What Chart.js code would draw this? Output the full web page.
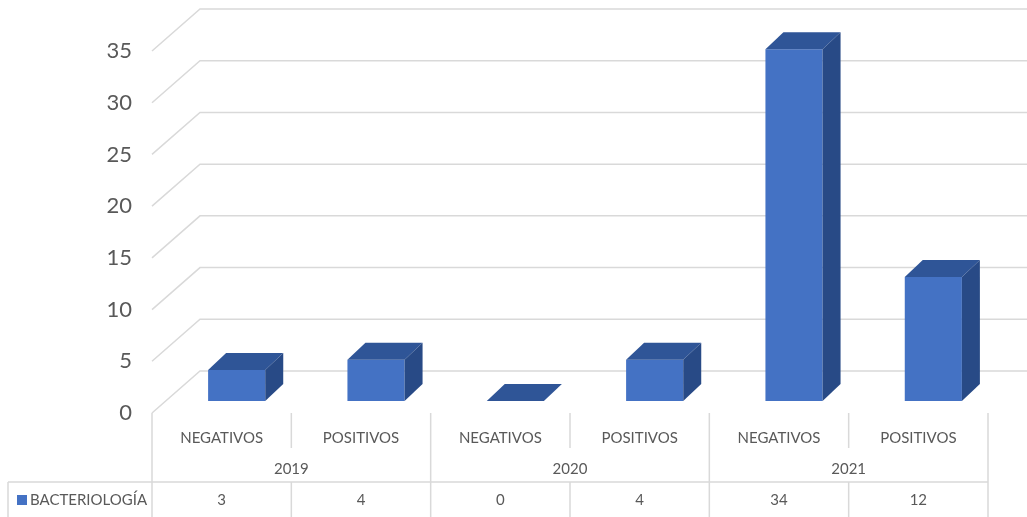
<!DOCTYPE html>
<html>
<head>
<meta charset="utf-8">
<script src="https://cdn.jsdelivr.net/npm/chart.js@4.4.1/dist/chart.umd.min.js"></script>
<style>
    html, body { margin: 0; padding: 0; background: #fff; }
    #wrap { width: 1027px; height: 517px; position: relative; }
</style>
</head>
<body>
<div id="wrap"><canvas id="bacteChart" width="1027" height="517"></canvas></div>
<script>
// Chart data
const years = ['2019', '2020', '2021'];
const results = ['NEGATIVOS', 'POSITIVOS'];
const seriesName = 'BACTERIOLOGÍA';
const bacteriologia = [3, 4, 0, 4, 34, 12];
const yTicks = [0, 5, 10, 15, 20, 25, 30, 35];

// Colours
const FRONT = '#4472C4';
const TOP = '#2F5597';
const SIDE = '#284A86';
const GRID = '#D9D9D9';
const TEXT = '#595959';
const FONT = 'Lato, "Open Sans", sans-serif';

// 3D geometry (pixels)
const DEPTH_X = 18, DEPTH_Y = -17;       // bar depth
const WALL_X = 33, WALL_Y = -30;         // bar front -> back wall
const FRONT_X = -15, FRONT_Y = 12;       // bar front -> floor front edge

const labels = [];
years.forEach(y => results.forEach(r => labels.push([r, y])));

// Back wall grid, floor edge and 3D bar faces
const frame3d = {
    id: 'frame3d',
    beforeDatasetsDraw(chart) {
        const { ctx, scales: { y }, chartArea } = chart;
        const frontLeft = chartArea.left + FRONT_X;
        ctx.save();
        ctx.strokeStyle = GRID;
        ctx.lineWidth = 1.5;
        yTicks.forEach(v => {
            const py = y.getPixelForValue(v);
            ctx.beginPath();
            ctx.moveTo(frontLeft, py + FRONT_Y);
            ctx.lineTo(frontLeft + (WALL_X - FRONT_X), py + WALL_Y);
            ctx.lineTo(chart.width, py + WALL_Y);
            ctx.stroke();
        });
        ctx.restore();
    },
    afterDatasetsDraw(chart) {
        const { ctx } = chart;
        const meta = chart.getDatasetMeta(0);
        ctx.save();
        meta.data.forEach(bar => {
            const { x, y, base, width } = bar.getProps(['x', 'y', 'base', 'width'], true);
            const x0 = x - width / 2, x1 = x + width / 2;
            // top face
            ctx.fillStyle = TOP;
            ctx.beginPath();
            ctx.moveTo(x0, y);
            ctx.lineTo(x1, y);
            ctx.lineTo(x1 + DEPTH_X, y + DEPTH_Y);
            ctx.lineTo(x0 + DEPTH_X, y + DEPTH_Y);
            ctx.closePath();
            ctx.fill();
            // side face
            if (base - y > 0.5) {
                ctx.fillStyle = SIDE;
                ctx.beginPath();
                ctx.moveTo(x1, y);
                ctx.lineTo(x1 + DEPTH_X, y + DEPTH_Y);
                ctx.lineTo(x1 + DEPTH_X, base + DEPTH_Y);
                ctx.lineTo(x1, base);
                ctx.closePath();
                ctx.fill();
            }
        });
        ctx.restore();
    }
};

// Data table under the plot
const dataTable = {
    id: 'dataTable',
    afterDraw(chart) {
        const { ctx, chartArea, scales: { y } } = chart;
        const left = chartArea.left + FRONT_X;
        const right = chartArea.right + FRONT_X;
        const colW = (right - left) / labels.length;
        const top = y.getPixelForValue(0) + FRONT_Y;
        const catY = top + 25, yearY = top + 56;
        const rowTop = top + 69, rowY = rowTop + 18, bottom = chart.height;

        ctx.save();
        ctx.strokeStyle = GRID;
        ctx.lineWidth = 1.5;
        const line = (ax, ay, bx, by) => {
            ctx.beginPath();
            ctx.moveTo(ax, ay);
            ctx.lineTo(bx, by);
            ctx.stroke();
        };
        for (let i = 0; i <= labels.length; i++) {
            const lx = left + i * colW;
            if (i % results.length === 0) {
                line(lx, top, lx, bottom);
            } else {
                line(lx, top, lx, top + 35);
                line(lx, rowTop, lx, bottom);
            }
        }
        line(8, rowTop, right, rowTop);
        line(8, rowTop, 8, bottom);

        ctx.fillStyle = TEXT;
        ctx.textAlign = 'center';
        ctx.textBaseline = 'middle';
        ctx.font = '15px ' + FONT;
        labels.forEach((lb, i) => {
            const cx = left + (i + 0.5) * colW;
            ctx.fillText(lb[0], cx, catY);
            ctx.fillText(String(bacteriologia[i]), cx, rowY);
        });
        years.forEach((yr, j) => {
            const cx = left + (j + 0.5) * colW * results.length;
            ctx.fillText(yr, cx, yearY);
        });

        // legend key
        ctx.fillStyle = FRONT;
        ctx.fillRect(17, rowY - 5, 10, 10);
        ctx.fillStyle = TEXT;
        ctx.textAlign = 'left';
        ctx.fillText(seriesName, 30, rowY);
        ctx.restore();
    }
};

new Chart(document.getElementById('bacteChart'), {
    type: 'bar',
    data: {
        labels: labels,
        datasets: [{
            label: seriesName,
            data: bacteriologia,
            backgroundColor: FRONT,
            borderWidth: 0,
            categoryPercentage: 0.82,
            barPercentage: 0.5
        }]
    },
    options: {
        responsive: false,
        animation: false,
        layout: { padding: { left: 0, right: 24, top: 39, bottom: 116 } },
        plugins: {
            legend: { display: false },
            tooltip: { enabled: false }
        },
        scales: {
            x: {
                display: false
            },
            y: {
                min: 0,
                max: 35,
                afterFit(scale) {
                    scale.width = 167;
                    scale.paddingTop = 0;
                    scale.paddingBottom = 0;
                },
                afterBuildTicks(scale) { scale.ticks = yTicks.map(v => ({ value: v })); },
                border: { display: false },
                grid: { display: false, drawTicks: false },
                ticks: {
                    padding: 35,
                    labelOffset: 12,
                    color: TEXT,
                    font: { family: FONT, size: 22 }
                }
            }
        }
    },
    plugins: [frame3d, dataTable]
});
</script>
</body>
</html>
